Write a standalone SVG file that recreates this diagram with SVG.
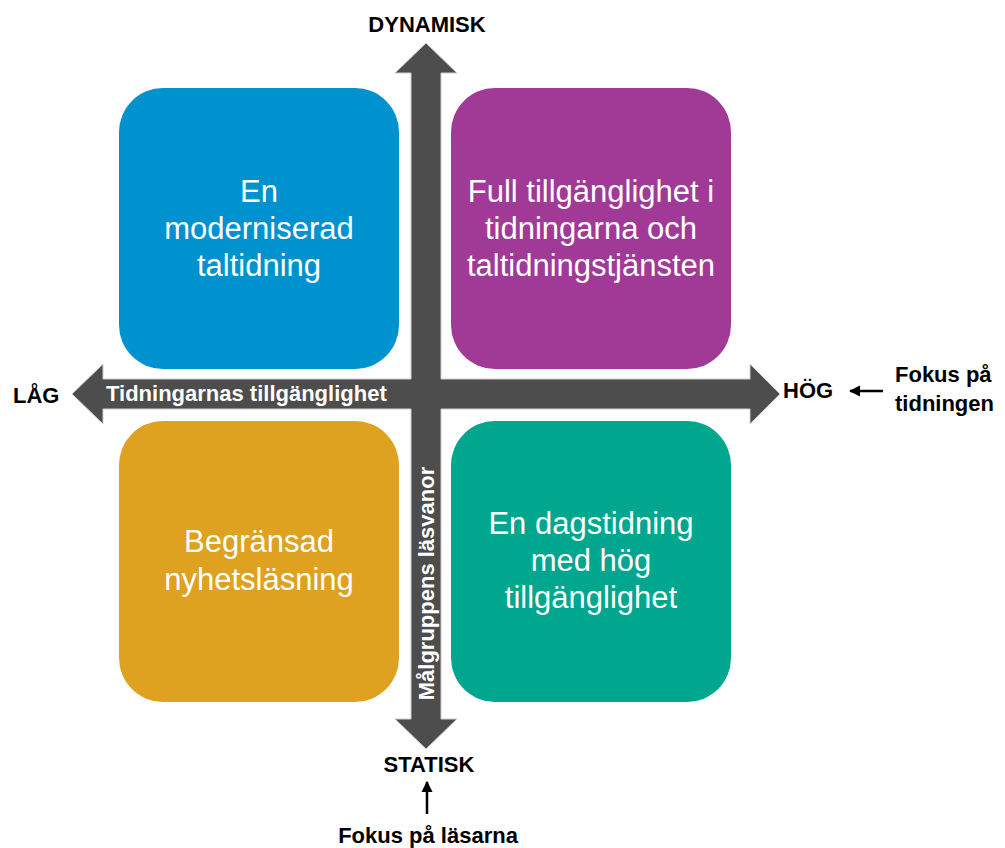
<svg xmlns="http://www.w3.org/2000/svg" width="1005" height="848" viewBox="0 0 1005 848">
<style>
.box{stroke:none}
.bt{font-family:"Liberation Sans",Arial,sans-serif;font-size:31px;fill:#fff;text-anchor:middle}
.lbl{font-family:"Liberation Sans",Arial,sans-serif;font-size:22px;font-weight:bold;fill:#000}
.al{font-family:"Liberation Sans",Arial,sans-serif;font-size:22px;font-weight:bold;fill:#fff}
.thin{stroke:#000;stroke-width:2.5;fill:none;marker-end:url(#ah)}
</style>
<defs>
<marker id="ah" viewBox="0 0 10 10" refX="9" refY="5" markerWidth="4.5" markerHeight="4.5" orient="auto" markerUnits="strokeWidth">
<path d="M0,0 L10,5 L0,10 z" fill="#000"/>
</marker>
</defs>
<rect width="1005" height="848" fill="#fff"/>
<g id="axes">
<polygon points="426,43 457,73 441,73 441,379 750,379 750,364 780,394 750,424 750,409 441,409 441,719 457,719 426,749 395,719 411,719 411,409 103,409 103,424 72,394 103,364 103,379 411,379 411,73 395,73" fill="#4D4D4D" stroke="#cfcfcf" stroke-width="1"/>
<text class="al" x="106" y="401">Tidningarnas tillgänglighet</text>
<text class="al" text-anchor="middle" transform="translate(433.5,583.5) rotate(-90)">Målgruppens läsvanor</text>
</g>
<g id="node-tl">
<rect class="box" x="119" y="88" width="280" height="281" rx="44" fill="#0092CF"/>
<text class="bt" x="259" y="202">En</text>
<text class="bt" x="259" y="239">moderniserad</text>
<text class="bt" x="259" y="276">taltidning</text>
</g>
<g id="node-tr">
<rect class="box" x="451" y="88" width="280" height="281" rx="44" fill="#A03A96"/>
<text class="bt" x="591" y="202">Full tillgänglighet i</text>
<text class="bt" x="591" y="239">tidningarna och</text>
<text class="bt" x="591" y="276">taltidningstjänsten</text>
</g>
<g id="node-bl">
<rect class="box" x="119" y="421" width="280" height="281" rx="44" fill="#DEA120"/>
<text class="bt" x="259" y="552">Begränsad</text>
<text class="bt" x="259" y="590">nyhetsläsning</text>
</g>
<g id="node-br">
<rect class="box" x="451" y="421" width="280" height="281" rx="44" fill="#00A78E"/>
<text class="bt" x="591" y="534">En dagstidning</text>
<text class="bt" x="591" y="571">med hög</text>
<text class="bt" x="591" y="608">tillgänglighet</text>
</g>
<g id="labels">
<text class="lbl" x="427" y="32" text-anchor="middle">DYNAMISK</text>
<text class="lbl" x="429" y="772" text-anchor="middle">STATISK</text>
<text class="lbl" x="13" y="403">LÅG</text>
<text class="lbl" x="783" y="398">HÖG</text>
<text class="lbl" x="895" y="382">Fokus på</text>
<text class="lbl" x="895" y="411">tidningen</text>
<text class="lbl" x="428" y="843" text-anchor="middle">Fokus på läsarna</text>
</g>
<g id="connectors">
<line class="thin" x1="883" y1="391" x2="850" y2="391"/>
<line class="thin" x1="427" y1="814" x2="427" y2="782"/>
</g>
</svg>
